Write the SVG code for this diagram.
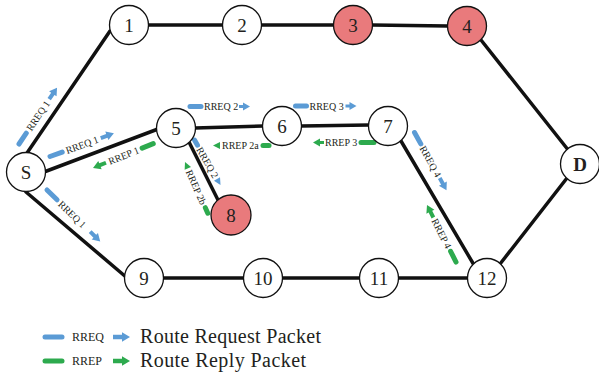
<svg xmlns="http://www.w3.org/2000/svg" xmlns:xlink="http://www.w3.org/1999/xlink" width="599" height="377" viewBox="0 0 599 377">
<style>
.edge{stroke:#111;stroke-width:3.5;stroke-linecap:round;fill:none}
.nd{fill:#fff;stroke:#111;stroke-width:1.3}
.red{fill:#E97A7C}
.nl{font-family:"Liberation Serif",serif;font-size:19px;fill:#231F20;text-anchor:middle}
.al{font-family:"Liberation Serif",serif;font-size:10px;fill:#231F20}
.bq{stroke:#5B9BD5;stroke-width:5;stroke-linecap:round}
.gp{stroke:#2DAA4E;stroke-width:5;stroke-linecap:round}
.fq{fill:#5B9BD5}
.fp{fill:#2DAA4E}
.lg{font-family:"Liberation Serif",serif;fill:#231F20}
</style>
<defs>
<path id="arr" d="M-14,-2 H-7.5 V-4.5 L0,0 L-7.5,4.5 V2 H-14 Z"/>
<path id="arrs" d="M-11,-1.5 H-7 V-4 L0,0 L-7,4 V1.5 H-11 Z"/>
<path id="tri" d="M-7,-3.5 L0,0 L-7,3.5 Z"/>
<path id="arrL" d="M-17,-2.2 H-8 V-4.8 L0,0 L-8,4.8 V2.2 H-17 Z"/>
</defs>
<g id="connectors">
<line class="edge" x1="27" y1="153" x2="110" y2="31"/>
<line class="edge" x1="148" y1="25" x2="223" y2="25"/>
<line class="edge" x1="261" y1="25" x2="334" y2="25"/>
<line class="edge" x1="372" y1="25" x2="448" y2="26"/>
<line class="edge" x1="481" y1="40" x2="569" y2="151"/>
<line class="edge" x1="44" y1="172" x2="158" y2="129"/>
<line class="edge" x1="26" y1="192" x2="126" y2="277"/>
<line class="edge" x1="163" y1="278" x2="244" y2="278"/>
<line class="edge" x1="282" y1="278" x2="360" y2="278"/>
<line class="edge" x1="398" y1="278" x2="468" y2="278"/>
<line class="edge" x1="500" y1="264" x2="567" y2="178"/>
<line class="edge" x1="195" y1="128" x2="263" y2="126"/>
<line class="edge" x1="301" y1="126" x2="369" y2="125"/>
<line class="edge" x1="188" y1="140" x2="219" y2="202"/>
<line class="edge" x1="401" y1="141" x2="474" y2="265"/>
</g>
<g id="labels">
<g transform="translate(19,144) rotate(-56)"><line class="bq" x1="0" y1="0" x2="13" y2="0"/><text class="al" x="17" y="3.5">RREQ 1</text><use xlink:href="#arr" class="fq" x="68" y="0"/></g>
<g transform="translate(50,156.5) rotate(-20)"><line class="bq" x1="0" y1="0" x2="13" y2="0"/><text class="al" x="17" y="3.5">RREQ 1</text><use xlink:href="#arr" class="fq" x="68" y="0"/></g>
<g transform="translate(93,168) rotate(-22)"><use xlink:href="#arr" class="fp" transform="scale(-1,1)"/><text class="al" x="17" y="3.5">RREP 1</text><line class="gp" x1="53" y1="0" x2="65" y2="0"/></g>
<g transform="translate(47,190) rotate(44)"><line class="bq" x1="0" y1="0" x2="14" y2="0"/><text class="al" x="18" y="3.5">RREQ 1</text><use xlink:href="#arr" class="fq" x="74" y="0"/></g>
<g transform="translate(190,106.5)"><line class="bq" x1="0" y1="0" x2="11" y2="0"/><text class="al" x="14" y="3.5">RREQ 2</text><use xlink:href="#arrs" class="fq" x="60" y="0"/></g>
<g transform="translate(295.5,106)"><line class="bq" x1="0" y1="0" x2="11" y2="0"/><text class="al" x="14" y="3.5">RREQ 3</text><use xlink:href="#arrs" class="fq" x="61" y="0"/></g>
<g transform="translate(213,145.5)"><use xlink:href="#tri" class="fp" transform="scale(-1,1)"/><text class="al" x="9" y="3.5">RREP 2a</text><line class="gp" x1="50" y1="0" x2="56" y2="0"/></g>
<g transform="translate(313,142.5)"><use xlink:href="#arrs" class="fp" transform="scale(-1,1)"/><text class="al" x="12" y="3.5">RREP 3</text><line class="gp" x1="48" y1="0" x2="61" y2="0"/></g>
<g transform="translate(194.5,140) rotate(60)"><line class="bq" x1="0" y1="0" x2="6" y2="0"/><text class="al" x="9" y="3.5">RREQ 2</text><use xlink:href="#tri" class="fq" x="52" y="0"/></g>
<g transform="translate(185,162) rotate(66)"><use xlink:href="#tri" class="fp" transform="scale(-1,1)"/><text class="al" x="9" y="3.5">RREP 2b</text><line class="gp" x1="50" y1="0" x2="56" y2="0"/></g>
<g transform="translate(414.5,132.5) rotate(61)"><line class="bq" x1="0" y1="0" x2="13" y2="0"/><text class="al" x="16" y="3.5">RREQ 4</text><use xlink:href="#arr" class="fq" x="66" y="0"/></g>
<g transform="translate(427,205) rotate(63)"><use xlink:href="#arr" class="fp" transform="scale(-1,1)"/><text class="al" x="16" y="3.5">RREP 4</text><line class="gp" x1="52" y1="0" x2="64" y2="0"/></g>
</g>
<g id="node-1"><circle class="nd" cx="129" cy="25" r="19.5"/><text class="nl" x="129" y="31.5">1</text></g>
<g id="node-2"><circle class="nd" cx="242" cy="25" r="19.5"/><text class="nl" x="242" y="31.5">2</text></g>
<g id="node-3"><circle class="nd red" cx="353" cy="25" r="19.5"/><text class="nl" x="353" y="31.5">3</text></g>
<g id="node-4"><circle class="nd red" cx="467" cy="26" r="19.5"/><text class="nl" x="467" y="32.5">4</text></g>
<g id="node-S"><circle class="nd" cx="26" cy="172" r="19.5"/><text class="nl" x="26" y="178.5">S</text></g>
<g id="node-5"><circle class="nd" cx="176" cy="128" r="19.5"/><text class="nl" x="176" y="134.5">5</text></g>
<g id="node-6"><circle class="nd" cx="282" cy="126" r="19.5"/><text class="nl" x="282" y="132.5">6</text></g>
<g id="node-7"><circle class="nd" cx="388" cy="126" r="19.5"/><text class="nl" x="388" y="132.5">7</text></g>
<g id="node-8"><circle class="nd red" cx="231" cy="215" r="20"/><text class="nl" x="231" y="221.5">8</text></g>
<g id="node-D"><circle class="nd" cx="580" cy="164" r="19.5"/><text class="nl" x="580" y="170.5" font-weight="bold">D</text></g>
<g id="node-9"><circle class="nd" cx="144" cy="278" r="19.5"/><text class="nl" x="144" y="284.5">9</text></g>
<g id="node-10"><circle class="nd" cx="263" cy="278" r="19.5"/><text class="nl" x="263" y="284.5">10</text></g>
<g id="node-11"><circle class="nd" cx="379" cy="278" r="19.5"/><text class="nl" x="379" y="284.5">11</text></g>
<g id="node-12"><circle class="nd" cx="487" cy="278" r="19.5"/><text class="nl" x="487" y="284.5">12</text></g>
<g id="legend">
<line class="bq" x1="45" y1="337" x2="62" y2="337"/>
<text class="lg" x="72" y="341" font-size="12">RREQ</text>
<use xlink:href="#arrL" class="fq" x="130" y="337"/>
<text class="lg" x="140" y="342.5" font-size="20" textLength="181">Route Request Packet</text>
<line class="gp" x1="45" y1="361" x2="62" y2="361"/>
<text class="lg" x="72" y="365" font-size="12">RREP</text>
<use xlink:href="#arrL" class="fp" x="130" y="361"/>
<text class="lg" x="140" y="367" font-size="20" textLength="166">Route Reply Packet</text>
</g>
</svg>
